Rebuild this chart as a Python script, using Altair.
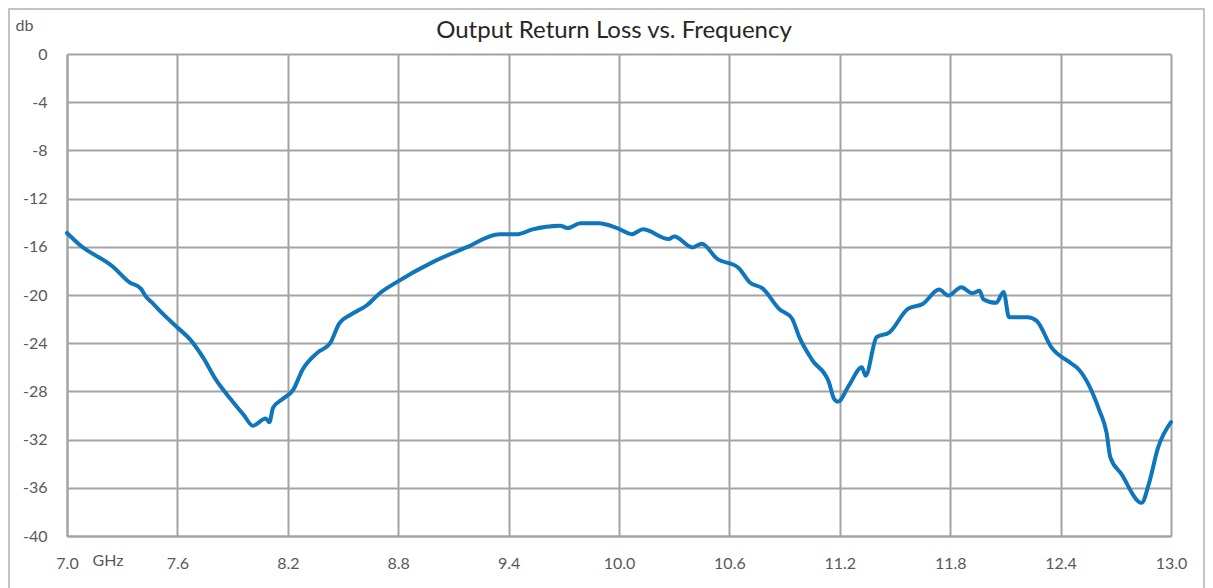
import altair as alt
import pandas as pd

freq_ghz = [7.00,7.07,7.25,7.34,7.40,7.43,7.47,7.52,7.60,7.67,
            7.74,7.81,7.89,7.96,8.01,8.08,8.10,8.12,8.17,8.23,
            8.28,8.36,8.43,8.48,8.54,8.63,8.70,8.79,8.99,9.17,
            9.35,9.45,9.53,9.68,9.72,9.79,9.89,9.99,10.07,10.13,
            10.27,10.30,10.40,10.45,10.53,10.65,10.71,10.78,10.87,10.94,
            10.98,11.05,11.14,11.17,11.19,11.25,11.32,11.34,11.40,11.47,
            11.57,11.65,11.74,11.79,11.86,11.92,11.96,11.98,12.05,12.09,
            12.12,12.22,12.27,12.35,12.46,12.50,12.61,12.65,12.67,12.73,
            12.84,12.88,12.93,13.00]
loss_db = [-14.85,-15.85,-17.65,-18.95,-19.45,-20.15,-20.75,-21.55,-22.7,-23.7,
           -25.2,-27.05,-28.65,-29.95,-30.85,-30.25,-30.55,-29.35,-28.65,-27.85,
           -26.2,-24.8,-24.0,-22.35,-21.65,-20.85,-19.85,-18.95,-17.25,-16.05,
           -14.95,-14.95,-14.55,-14.25,-14.45,-14.05,-14.05,-14.45,-14.95,-14.55,
           -15.35,-15.15,-16.05,-15.75,-16.95,-17.75,-18.95,-19.45,-21.15,-21.95,
           -23.5,-25.4,-27.2,-28.65,-28.85,-27.5,-26.0,-26.7,-23.5,-23.1,
           -21.15,-20.75,-19.55,-20.05,-19.35,-19.85,-19.65,-20.35,-20.65,-19.75,
           -21.85,-21.85,-22.15,-24.35,-25.7,-26.2,-29.55,-31.45,-33.45,-34.85,
           -37.25,-35.65,-32.65,-30.55]
x_ticks = [7.0, 7.6, 8.2, 8.8, 9.4, 10.0, 10.6, 11.2, 11.8, 12.4, 13.0]
y_ticks = [0, -4, -8, -12, -16, -20, -24, -28, -32, -36, -40]
title_text = "Output Return Loss vs. Frequency"

df = pd.DataFrame({"f": freq_ghz, "db": loss_db})

FONT = "Lato"
GRID = "#a3a3a3"
LBL = "#595959"

one = alt.Data(values=[{}])

frame = alt.Chart(one).mark_rect(
    fill=None, stroke="#b0b0b0", strokeWidth=1.5
).encode(
    x=alt.value(-58), x2=alt.value(1137), y=alt.value(-45), y2=alt.value(560)
)

title = alt.Chart(one).mark_text(
    font=FONT, fontSize=24, color="#262626", align="center", baseline="middle"
).encode(
    x=alt.value(547), y=alt.value(-23), text=alt.value(title_text)
)

line = alt.Chart(df).mark_line(
    color="#0F75BC", strokeWidth=4, interpolate="monotone", strokeCap="round"
).encode(
    x=alt.X("f:Q", scale=alt.Scale(domain=[7, 13], nice=False, zero=False),
            axis=alt.Axis(values=x_ticks, format=".1f", title="GHz",
                          titleX=25, titleY=24, titleAlign="left",
                          titleBaseline="middle", titleAngle=0,
                          titleFontWeight="normal", titleFontSize=16,
                          titleColor=LBL, titleFont=FONT,
                          labelPadding=19, labelFontSize=16, labelColor=LBL,
                          labelFont=FONT, ticks=False, grid=True,
                          gridColor=GRID, gridWidth=2, domainColor=GRID,
                          domainWidth=2, labelFlush=False)),
    y=alt.Y("db:Q", scale=alt.Scale(domain=[-40, 0], nice=False, zero=False),
            axis=alt.Axis(values=y_ticks, labelExpr="'' + datum.value", title="db",
                          titleX=-52, titleY=-29, titleAlign="left",
                          titleBaseline="middle", titleAngle=0,
                          titleFontWeight="normal", titleFontSize=16,
                          titleColor=LBL, titleFont=FONT,
                          labelPadding=20, labelFontSize=16, labelColor=LBL,
                          labelFont=FONT, ticks=False, grid=True,
                          gridColor=GRID, gridWidth=2, domainColor=GRID,
                          domainWidth=2, labelFlush=False)),
)

chart = alt.layer(frame, line, title).properties(
    width=1104, height=482,
    autosize=alt.AutoSizeParams(type="none"),
    padding={"left": 59, "top": 46, "right": 34, "bottom": 52},
).configure_view(stroke=None)

chart.save("out.html", embed_options={"renderer": "svg", "actions": False})
